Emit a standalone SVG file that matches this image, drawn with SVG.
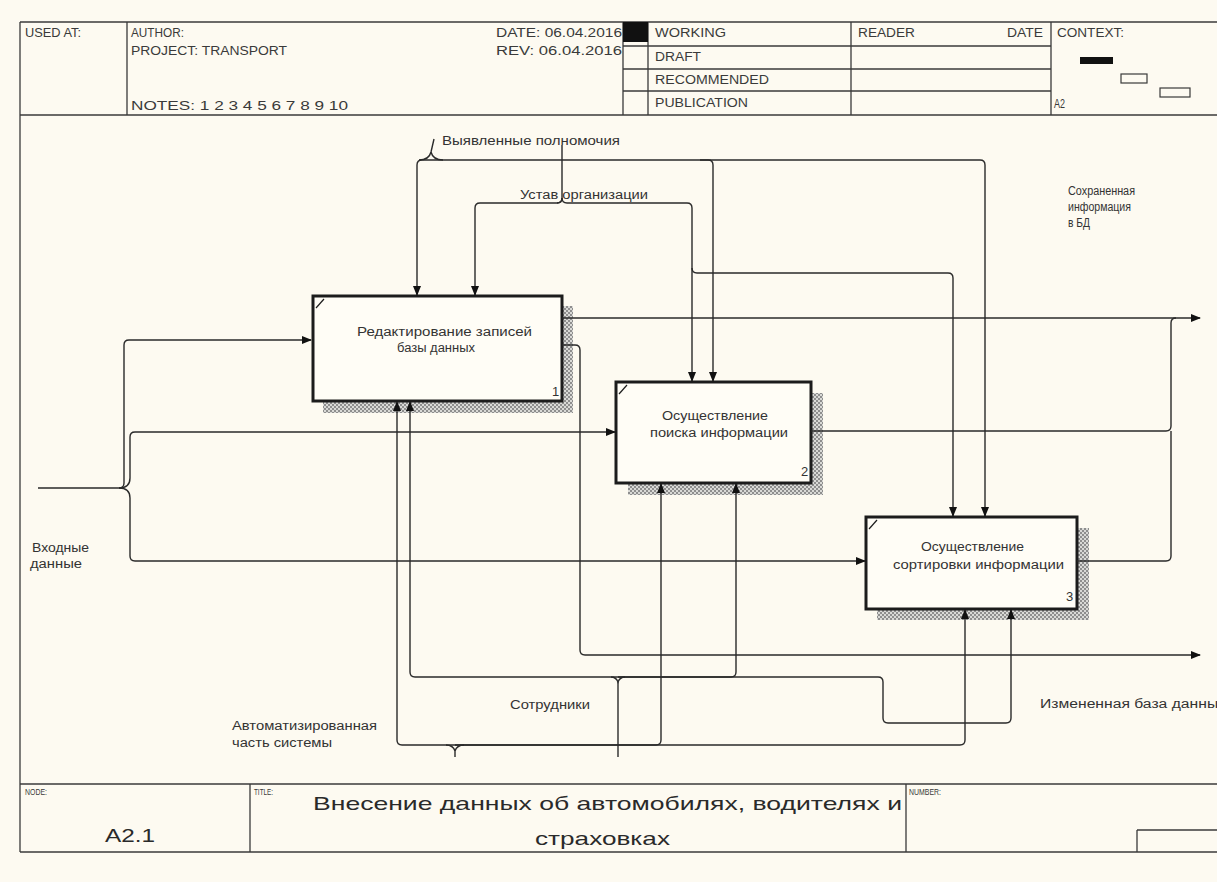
<svg xmlns="http://www.w3.org/2000/svg" width="1217" height="882" viewBox="0 0 1217 882">
  <style>
    .frame { fill: none; stroke: #3a3a3a; stroke-width: 1.3; }
    .hdr { font-family: "Liberation Sans", Arial, sans-serif; font-size: 12px; fill: #3a3a3a; }
    .tiny { font-family: "Liberation Sans", Arial, sans-serif; font-size: 9px; fill: #3a3a3a; }
    .lbl { font-family: "Liberation Sans", Arial, sans-serif; font-size: 12px; fill: #333; }
    .title { font-family: "Liberation Sans", Arial, sans-serif; font-size: 19px; fill: #2a2a2a; }
    .box { fill: #fffdf6; stroke: #1c1c1c; stroke-width: 3; }
    .shadow { fill: url(#hatch); }
    .arrow { fill: none; stroke: #2a2a2a; stroke-width: 1.4; }
    .arrowhead { fill: none; stroke: #2a2a2a; stroke-width: 1.4; marker-end: url(#ah); }
    .num { font-family: "Liberation Sans", Arial, sans-serif; font-size: 13px; fill: #333; }
  </style>
  <defs>
    <pattern id="hatch" width="4" height="4" patternUnits="userSpaceOnUse">
      <rect width="4" height="4" fill="#d9d9d6"/>
      <rect x="0" y="0" width="2" height="2" fill="#8e8e8e"/>
      <rect x="2" y="2" width="2" height="2" fill="#8e8e8e"/>
    </pattern>
    <marker id="ah" markerWidth="10" markerHeight="8" refX="9" refY="4" orient="auto" markerUnits="userSpaceOnUse">
      <path d="M0,0 L10,4 L0,8 z" fill="#111"/>
    </marker>
  </defs>

  <!-- sheet -->
  <rect x="0" y="0" width="1217" height="882" fill="#fdfaf1"/>

  <!-- header block -->
  <g id="header">
    <line class="frame" x1="20" y1="22" x2="1217" y2="22"/>
    <line class="frame" x1="20" y1="115" x2="1217" y2="115"/>
    <line class="frame" x1="20" y1="22" x2="20" y2="852"/>
    <line class="frame" x1="127" y1="22" x2="127" y2="115"/>
    <line class="frame" x1="623" y1="22" x2="623" y2="115"/>
    <line class="frame" x1="648" y1="22" x2="648" y2="115"/>
    <line class="frame" x1="851" y1="22" x2="851" y2="115"/>
    <line class="frame" x1="1051" y1="22" x2="1051" y2="115"/>
    <line class="frame" x1="623" y1="46" x2="1051" y2="46"/>
    <line class="frame" x1="623" y1="69" x2="1051" y2="69"/>
    <line class="frame" x1="623" y1="91" x2="1051" y2="91"/>
    <rect x="623" y="22" width="25" height="20" fill="#111"/>

    <text class="hdr" x="25" y="37" textLength="56" lengthAdjust="spacingAndGlyphs">USED AT:</text>
    <text class="hdr" x="131" y="37" textLength="53" lengthAdjust="spacingAndGlyphs">AUTHOR:</text>
    <text class="hdr" x="131" y="55" textLength="156" lengthAdjust="spacingAndGlyphs">PROJECT:  TRANSPORT</text>
    <text class="hdr" x="131" y="110" textLength="217" lengthAdjust="spacingAndGlyphs">NOTES:  1  2  3  4  5  6  7  8  9  10</text>
    <text class="hdr" x="496" y="37" textLength="126" lengthAdjust="spacingAndGlyphs">DATE:  06.04.2016</text>
    <text class="hdr" x="496" y="55" textLength="126" lengthAdjust="spacingAndGlyphs">REV:   06.04.2016</text>

    <text class="hdr" x="655" y="37" textLength="71" lengthAdjust="spacingAndGlyphs">WORKING</text>
    <text class="hdr" x="655" y="61" textLength="46" lengthAdjust="spacingAndGlyphs">DRAFT</text>
    <text class="hdr" x="655" y="84" textLength="114" lengthAdjust="spacingAndGlyphs">RECOMMENDED</text>
    <text class="hdr" x="655" y="107" textLength="93" lengthAdjust="spacingAndGlyphs">PUBLICATION</text>
    <text class="hdr" x="858" y="37" textLength="57" lengthAdjust="spacingAndGlyphs">READER</text>
    <text class="hdr" x="1007" y="37" textLength="36" lengthAdjust="spacingAndGlyphs">DATE</text>
    <text class="hdr" x="1057" y="37" textLength="67" lengthAdjust="spacingAndGlyphs">CONTEXT:</text>
    <text class="hdr" x="1054" y="108" textLength="11" lengthAdjust="spacingAndGlyphs">A2</text>

    <!-- context thumbnail -->
    <rect x="1080" y="57" width="33" height="7" fill="#111"/>
    <rect x="1121" y="74" width="26" height="9" fill="none" stroke="#3a3a3a" stroke-width="1.2"/>
    <rect x="1160" y="88" width="30" height="9" fill="none" stroke="#3a3a3a" stroke-width="1.2"/>
  </g>

  <!-- footer block -->
  <g id="footer">
    <line class="frame" x1="20" y1="784" x2="1217" y2="784"/>
    <line class="frame" x1="20" y1="852" x2="1217" y2="852"/>
    <line class="frame" x1="250" y1="784" x2="250" y2="852"/>
    <line class="frame" x1="906" y1="784" x2="906" y2="852"/>
    <line class="frame" x1="1137" y1="830" x2="1217" y2="830"/>
    <line class="frame" x1="1137" y1="830" x2="1137" y2="852"/>
    <text class="tiny" x="25" y="795" textLength="22" lengthAdjust="spacingAndGlyphs">NODE:</text>
    <text class="tiny" x="254" y="795" textLength="19" lengthAdjust="spacingAndGlyphs">TITLE:</text>
    <text class="tiny" x="909" y="795" textLength="32" lengthAdjust="spacingAndGlyphs">NUMBER:</text>
    <text class="title" x="105" y="842" font-size="21" textLength="50" lengthAdjust="spacingAndGlyphs">A2.1</text>
    <text class="title" x="313" y="810" textLength="589" lengthAdjust="spacingAndGlyphs">Внесение данных  об автомобилях, водителях и</text>
    <text class="title" x="535" y="845" textLength="135" lengthAdjust="spacingAndGlyphs">страховках</text>
  </g>

  <!-- activity boxes -->
  <g id="box1">
    <rect class="shadow" x="562" y="306" width="11" height="107"/>
    <rect class="shadow" x="323" y="401" width="250" height="12"/>
    <rect class="box" x="313" y="296" width="249" height="105"/>
    <path d="M316 308 L324 299" stroke="#1c1c1c" stroke-width="1.2" fill="none"/>
    <text class="lbl" x="357" y="336" textLength="175" lengthAdjust="spacingAndGlyphs">Редактирование записей</text>
    <text class="lbl" x="397" y="352" textLength="78" lengthAdjust="spacingAndGlyphs">базы данных</text>
    <text class="num" x="552" y="396">1</text>
  </g>

  <g id="box2">
    <rect class="shadow" x="811" y="393" width="12" height="102"/>
    <rect class="shadow" x="628" y="483" width="195" height="12"/>
    <rect class="box" x="616" y="382" width="195" height="101"/>
    <path d="M619 394 L627 385" stroke="#1c1c1c" stroke-width="1.2" fill="none"/>
    <text class="lbl" x="662" y="420" textLength="106" lengthAdjust="spacingAndGlyphs">Осуществление</text>
    <text class="lbl" x="650" y="437" textLength="138" lengthAdjust="spacingAndGlyphs">поиска информации</text>
    <text class="num" x="801" y="476">2</text>
  </g>

  <g id="box3">
    <rect class="shadow" x="1077" y="528" width="12" height="92"/>
    <rect class="shadow" x="877" y="609" width="212" height="11"/>
    <rect class="box" x="866" y="517" width="211" height="92"/>
    <path d="M869 529 L877 520" stroke="#1c1c1c" stroke-width="1.2" fill="none"/>
    <text class="lbl" x="921" y="551" textLength="103" lengthAdjust="spacingAndGlyphs">Осуществление</text>
    <text class="lbl" x="893" y="569" textLength="171" lengthAdjust="spacingAndGlyphs">сортировки информации</text>
    <text class="num" x="1066" y="601">3</text>
  </g>

  <!-- connectors -->
  <g id="connectors">
    <!-- input: Входные данные -->
    <path class="arrowhead" d="M38 488 H119 Q124 488 124 483 V345 Q124 340 129 340 H311"/>
    <path class="arrowhead" d="M119 488 Q130 488 130 478 V437 Q130 432 135 432 H615"/>
    <path class="arrowhead" d="M119 488 Q130 488 130 498 V556 Q130 561 135 561 H865"/>

    <!-- control: Выявленные полномочия -->
    <path class="arrowhead" d="M437 160 H980 Q985 160 985 165 V516"/>
    <path class="arrowhead" d="M437 160 H422 Q417 160 417 165 V295"/>
    <path class="arrowhead" d="M700 160 H708 Q713 160 713 165 V381"/>
    <path class="arrow" d="M419 160 Q429 160 431 152 Q433 160 443 160 M431 152 L434 139"/>

    <!-- control: Устав организации -->
    <path class="arrow" d="M562 145 V198 Q562 203 557 203"/>
    <path class="arrowhead" d="M562 198 Q562 203 557 203 H480 Q475 203 475 208 V295"/>
    <path class="arrowhead" d="M562 198 Q562 203 567 203 H687 Q692 203 692 208 V381"/>
    <path class="arrowhead" d="M692 268 Q692 273 697 273 H948 Q953 273 953 278 V516"/>

    <!-- outputs -->
    <path class="arrowhead" d="M562 318 H1200"/>
    <path class="arrowhead" d="M562 345 H575 Q580 345 580 350 V650 Q580 655 585 655 H1200"/>
    <path class="arrow" d="M811 431 H1166 Q1171 431 1171 426 V323 Q1171 318 1176 318"/>
    <path class="arrow" d="M1077 561 H1166 Q1171 561 1171 556 V431"/>

    <!-- mechanism: Автоматизированная часть системы -->
    <path class="arrowhead" d="M455 745 H402 Q397 745 397 740 V402"/>
    <path class="arrowhead" d="M455 745 H656 Q661 745 661 740 V484"/>
    <path class="arrowhead" d="M455 745 H960 Q965 745 965 740 V610"/>
    <path class="arrow" d="M446 745 Q453 745 455 751 Q457 745 464 745 M455 751 V757"/>

    <!-- mechanism: Сотрудники -->
    <path class="arrow" d="M618 757 V682"/>
    <path class="arrow" d="M611 677 Q616 677 618 682 Q620 677 625 677"/>
    <path class="arrowhead" d="M618 677 H415 Q410 677 410 672 V402"/>
    <path class="arrowhead" d="M618 677 H731 Q736 677 736 672 V484"/>
    <path class="arrowhead" d="M618 677 H878 Q883 677 883 682 V718 Q883 723 888 723 H1006 Q1011 723 1011 718 V610"/>
  </g>

  <!-- arrow labels -->
  <g id="labels">
    <text class="lbl" x="442" y="145" textLength="178" lengthAdjust="spacingAndGlyphs">Выявленные полномочия</text>
    <text class="lbl" x="520" y="199" textLength="128" lengthAdjust="spacingAndGlyphs">Устав организации</text>
    <text class="lbl" x="1068" y="195" textLength="67" lengthAdjust="spacingAndGlyphs">Сохраненная</text>
    <text class="lbl" x="1068" y="211" textLength="63" lengthAdjust="spacingAndGlyphs">информация</text>
    <text class="lbl" x="1068" y="227" textLength="22" lengthAdjust="spacingAndGlyphs">в БД</text>
    <text class="lbl" x="32" y="552" textLength="57" lengthAdjust="spacingAndGlyphs">Входные</text>
    <text class="lbl" x="30" y="568" textLength="52" lengthAdjust="spacingAndGlyphs">данные</text>
    <text class="lbl" x="232" y="730" textLength="145" lengthAdjust="spacingAndGlyphs">Автоматизированная</text>
    <text class="lbl" x="232" y="747" textLength="100" lengthAdjust="spacingAndGlyphs">часть системы</text>
    <text class="lbl" x="510" y="709" textLength="80" lengthAdjust="spacingAndGlyphs">Сотрудники</text>
    <text class="lbl" x="1040" y="708" textLength="186" lengthAdjust="spacingAndGlyphs">Измененная база данных</text>
  </g>
</svg>
